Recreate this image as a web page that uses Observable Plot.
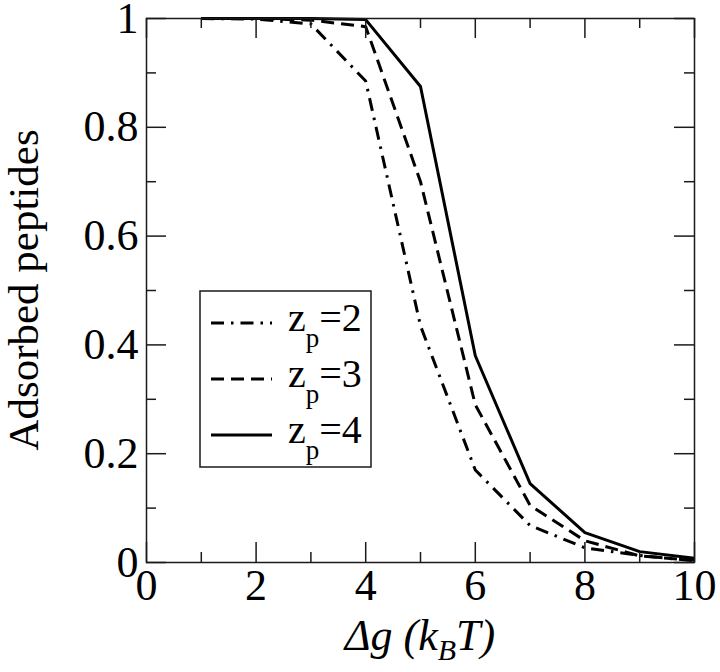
<!DOCTYPE html>
<html>
<head>
<meta charset="utf-8">
<script src="https://cdn.jsdelivr.net/npm/d3@7"></script>
<script src="https://cdn.jsdelivr.net/npm/@observablehq/plot@0.6"></script>
<style>
  html, body { margin: 0; padding: 0; background: #fff; }
  #chart { width: 720px; height: 672px; }
</style>
</head>
<body>
<div id="chart"></div>
<script>
// Δg values (k_B T)
const dg = [1, 2, 3, 4, 5, 6, 7, 8, 9, 10];
// Fraction of adsorbed peptides for each peptide charge z_p
const zp2 = [1.0, 0.999, 0.99, 0.885, 0.435, 0.17, 0.068, 0.027, 0.013, 0.003];
const zp3 = [1.0, 1.0, 0.997, 0.985, 0.70, 0.29, 0.105, 0.04, 0.012, 0.004];
const zp4 = [1.0, 1.0, 1.0, 0.998, 0.875, 0.38, 0.145, 0.055, 0.02, 0.008];
const seriesNames = ["2", "3", "4"];
const xTicks = [0, 2, 4, 6, 8, 10];
const xMinor = [1, 3, 5, 7, 9];
const yTicks = [0, 0.2, 0.4, 0.6, 0.8, 1];
const yMinor = [0.1, 0.3, 0.5, 0.7, 0.9];
const xLabel = "Δg";
const yLabel = "Adsorbed peptides";

const styles = {
  "2": {dash: "13,7,2.5,7"},
  "3": {dash: "13,7"},
  "4": {dash: null}
};
const seriesValues = {"2": zp2, "3": zp3, "4": zp4};
const rows = seriesNames.flatMap(z => dg.map((x, i) => ({x, y: seriesValues[z][i], z})));

const W = 720, H = 672;
const mL = 146, mR = 26, mT = 18, mB = 110;
const innerW = W - mL - mR, innerH = H - mT - mB;
const xDom = [0, 10], yDom = [0, 1];
const majPx = 20, minPx = 10;
const xu = px => px * (xDom[1] - xDom[0]) / innerW;
const yu = px => px * (yDom[1] - yDom[0]) / innerH;
const font = "Liberation Serif, DejaVu Serif, Times New Roman, serif";
const ink = "#1a1a1a";

const tickMarks = [
  Plot.ruleX(xTicks, {x: d => d, y1: yDom[0], y2: yDom[0] + yu(majPx), stroke: ink, strokeWidth: 1.5}),
  Plot.ruleX(xTicks, {x: d => d, y1: yDom[1], y2: yDom[1] - yu(majPx), stroke: ink, strokeWidth: 1.5}),
  Plot.ruleX(xMinor, {x: d => d, y1: yDom[0], y2: yDom[0] + yu(minPx), stroke: ink, strokeWidth: 1.5}),
  Plot.ruleX(xMinor, {x: d => d, y1: yDom[1], y2: yDom[1] - yu(minPx), stroke: ink, strokeWidth: 1.5}),
  Plot.ruleY(yTicks, {y: d => d, x1: xDom[0], x2: xDom[0] + xu(majPx), stroke: ink, strokeWidth: 1.5}),
  Plot.ruleY(yTicks, {y: d => d, x1: xDom[1], x2: xDom[1] - xu(majPx), stroke: ink, strokeWidth: 1.5}),
  Plot.ruleY(yMinor, {y: d => d, x1: xDom[0], x2: xDom[0] + xu(minPx), stroke: ink, strokeWidth: 1.5}),
  Plot.ruleY(yMinor, {y: d => d, x1: xDom[1], x2: xDom[1] - xu(minPx), stroke: ink, strokeWidth: 1.5})
];

const lineMarks = seriesNames.map(z => Plot.line(rows.filter(r => r.z === z), {
  x: "x", y: "y", stroke: "#000", strokeWidth: 3,
  strokeDasharray: styles[z].dash, strokeLinejoin: "miter", strokeLinecap: "butt"
}));

const plot = Plot.plot({
  width: W, height: H,
  marginLeft: mL, marginRight: mR, marginTop: mT, marginBottom: mB,
  style: {fontFamily: font, fontSize: "44px", color: "#000", background: "#fff", overflow: "visible"},
  x: {domain: xDom, label: null},
  y: {domain: yDom, label: null},
  marks: [
    Plot.axisX({ticks: xTicks, tickSize: 0, tickPadding: 6, tickFormat: d => String(d), fontSize: 44, label: null}),
    Plot.axisY({ticks: yTicks, tickSize: 0, tickPadding: 8, tickFormat: d => String(d), fontSize: 44, label: null}),
    ...lineMarks,
    ...tickMarks,
    Plot.frame({stroke: ink, strokeWidth: 1.5})
  ]
});
document.getElementById("chart").appendChild(plot);

const svg = d3.select(plot);
const ns = svg.append("g").attr("font-family", font).attr("fill", "#000").attr("text-anchor", "start");

// x title
const xt = ns.append("text").attr("x", mL + innerW / 2).attr("y", 650)
  .attr("text-anchor", "middle").attr("font-size", 44).attr("font-style", "italic");
xt.append("tspan").text(xLabel + " (k");
xt.append("tspan").attr("font-size", 30).attr("dy", 10).text("B");
xt.append("tspan").attr("dy", -10).text("T)");

// y title
ns.append("text").attr("transform", `translate(38,${mT + innerH / 2}) rotate(-90)`)
  .attr("text-anchor", "middle").attr("font-size", 43).text(yLabel);

// legend
const lg = ns.append("g");
lg.append("rect").attr("x", 200).attr("y", 291).attr("width", 171).attr("height", 176)
  .attr("fill", "#fff").attr("stroke", ink).attr("stroke-width", 1.5);
seriesNames.forEach((z, i) => {
  const cy = 323 + i * 56;
  lg.append("line").attr("x1", 211).attr("x2", 272).attr("y1", cy).attr("y2", cy)
    .attr("stroke", "#000").attr("stroke-width", 3)
    .attr("stroke-dasharray", styles[z].dash || null);
  const t = lg.append("text").attr("x", 288).attr("y", cy + 8).attr("font-size", 40).attr("text-anchor", "start");
  t.append("tspan").text("z");
  t.append("tspan").attr("font-size", 27).attr("dy", 16).text("p");
  t.append("tspan").attr("dy", -16).text("=" + z);
});
</script>
</body>
</html>
